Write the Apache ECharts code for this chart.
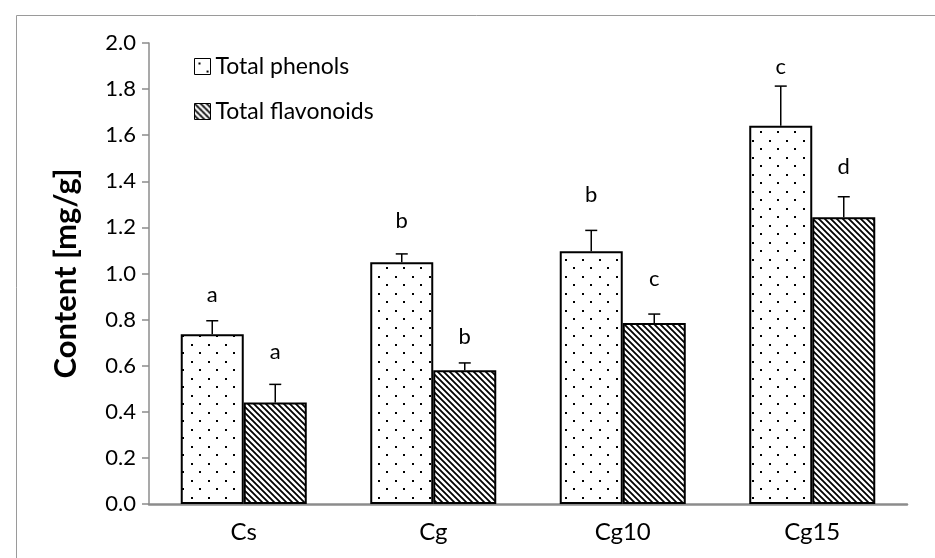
<!DOCTYPE html>
<html><head><meta charset="utf-8">
<script src="https://cdn.jsdelivr.net/npm/echarts@6/dist/echarts.min.js"></script>
<style>html,body{margin:0;padding:0;background:#fff}#c{width:935px;height:558px}</style>
</head><body><div id="c"></div>
<script>
const categories = ['Cs', 'Cg', 'Cg10', 'Cg15'];
const phenols = [0.736, 1.049, 1.096, 1.641];
const phenolsSD = [0.059, 0.036, 0.091, 0.172];
const flavonoids = [0.44, 0.58, 0.785, 1.244];
const flavonoidsSD = [0.079, 0.032, 0.039, 0.089];
const phenolLetters = ['a', 'b', 'b', 'c'];
const flavonoidLetters = ['a', 'b', 'c', 'd'];
const phenolLetterLevel = [0.907, 1.229, 1.34, 1.897];
const flavonoidLetterLevel = [0.658, 0.726, 0.976, 1.462];
const yTicks = ['0.0','0.2','0.4','0.6','0.8','1.0','1.2','1.4','1.6','1.8','2.0'];

const FONT = 'Lato, Carlito, "Open Sans", sans-serif';
const CAT_GAP = 0.335;

function dotPattern() {
  const c = document.createElement('canvas');
  c.width = 17; c.height = 17;
  const g = c.getContext('2d');
  g.fillStyle = '#fff'; g.fillRect(0, 0, 17, 17);
  g.fillStyle = '#000';
  g.fillRect(4, 4, 2, 2);
  g.fillRect(12, 12, 2, 2);
  return c;
}
function hatchPattern() {
  const s = 6;
  const c = document.createElement('canvas');
  c.width = s; c.height = s;
  const g = c.getContext('2d');
  g.fillStyle = '#fff'; g.fillRect(0, 0, s, s);
  g.strokeStyle = '#000'; g.lineWidth = 1.8;
  g.beginPath();
  g.moveTo(-1, -1); g.lineTo(s + 1, s + 1);
  g.moveTo(-1, s - 1); g.lineTo(1, s + 1);
  g.moveTo(s - 1, -1); g.lineTo(s + 1, 1);
  g.stroke();
  return c;
}
const dotFill = { image: dotPattern(), repeat: 'repeat' };
const hatchFill = { image: hatchPattern(), repeat: 'repeat' };

function errSeries(side, values, sds, letters, levels) {
  return {
    type: 'custom',
    name: 'err' + side,
    z: 5,
    silent: true,
    data: values.map((v, i) => [i, v, v + sds[i], levels[i]]),
    renderItem: function (params, api) {
      const i = api.value(0);
      const band = api.size([1, 0])[0];
      const barW = band * (1 - CAT_GAP) / 2;
      const base = api.coord([i, 0]);
      const cx = base[0] + side * barW / 2;
      const yTop = api.coord([i, api.value(1)])[1];
      const yHi = api.coord([i, api.value(2)])[1];
      const yL = api.coord([i, api.value(3)])[1];
      return {
        type: 'group',
        children: [
          { type: 'line', shape: { x1: cx, y1: yTop, x2: cx, y2: yHi }, style: { stroke: '#000', lineWidth: 1.5 } },
          { type: 'line', shape: { x1: cx - 6, y1: yHi, x2: cx + 6, y2: yHi }, style: { stroke: '#000', lineWidth: 1.5 } },
          { type: 'text', style: { text: letters[i], x: cx, y: yL, align: 'center', verticalAlign: 'middle', fontFamily: FONT, fontSize: 22, fill: '#000' } }
        ]
      };
    }
  };
}

const chart = echarts.init(document.getElementById('c'), null, { renderer: 'canvas' });
chart.setOption({
  animation: false,
  backgroundColor: '#fff',
  textStyle: { fontFamily: FONT },
  graphic: [{
    type: 'rect', left: 14, top: 13, shape: { width: 1000, height: 1000 },
    style: { fill: 'none', stroke: '#9a9a9a', lineWidth: 1 }, silent: true, z: -10
  }],
  grid: { left: 149, right: 28, top: 43, bottom: 54, containLabel: false },
  legend: {
    data: ['Total phenols', 'Total flavonoids'],
    orient: 'vertical',
    left: 189, top: 50,
    itemWidth: 16, itemHeight: 16,
    itemGap: 22,
    icon: 'rect',
    textStyle: { fontFamily: FONT, fontSize: 23, color: '#000' },
    itemStyle: { borderColor: '#000', borderWidth: 1 }
  },
  xAxis: {
    type: 'category',
    data: categories,
    axisLine: { lineStyle: { color: '#8c8c8c', width: 2.5 } },
    axisTick: { show: false },
    axisLabel: { color: '#000', fontSize: 24, fontFamily: FONT, margin: 16 }
  },
  yAxis: {
    type: 'value',
    min: 0, max: 2, interval: 0.2,
    name: 'Content [mg/g]',
    nameLocation: 'middle',
    nameRotate: 90,
    nameGap: 68,
    nameTextStyle: { fontFamily: FONT, fontSize: 31, fontWeight: 'bold', color: '#000' },
    axisLine: { show: true, lineStyle: { color: '#8c8c8c', width: 1.5 } },
    axisTick: { show: true, inside: false, length: 7, lineStyle: { color: '#8c8c8c', width: 1.5 } },
    splitLine: { show: false },
    axisLabel: {
      color: '#000', fontSize: 22, fontFamily: FONT, margin: 13,
      formatter: function (v) { return yTicks[Math.round(v / 0.2)]; }
    }
  },
  series: [
    {
      type: 'bar', name: 'Total phenols', data: phenols,
      barGap: '0%', barCategoryGap: (CAT_GAP * 100) + '%',
      itemStyle: { color: dotFill, borderColor: '#000', borderWidth: 2 }
    },
    {
      type: 'bar', name: 'Total flavonoids', data: flavonoids,
      barGap: '0%', barCategoryGap: (CAT_GAP * 100) + '%',
      itemStyle: { color: hatchFill, borderColor: '#000', borderWidth: 2 }
    },
    errSeries(-1, phenols, phenolsSD, phenolLetters, phenolLetterLevel),
    errSeries(1, flavonoids, flavonoidsSD, flavonoidLetters, flavonoidLetterLevel)
  ]
});
</script>
</body></html>
